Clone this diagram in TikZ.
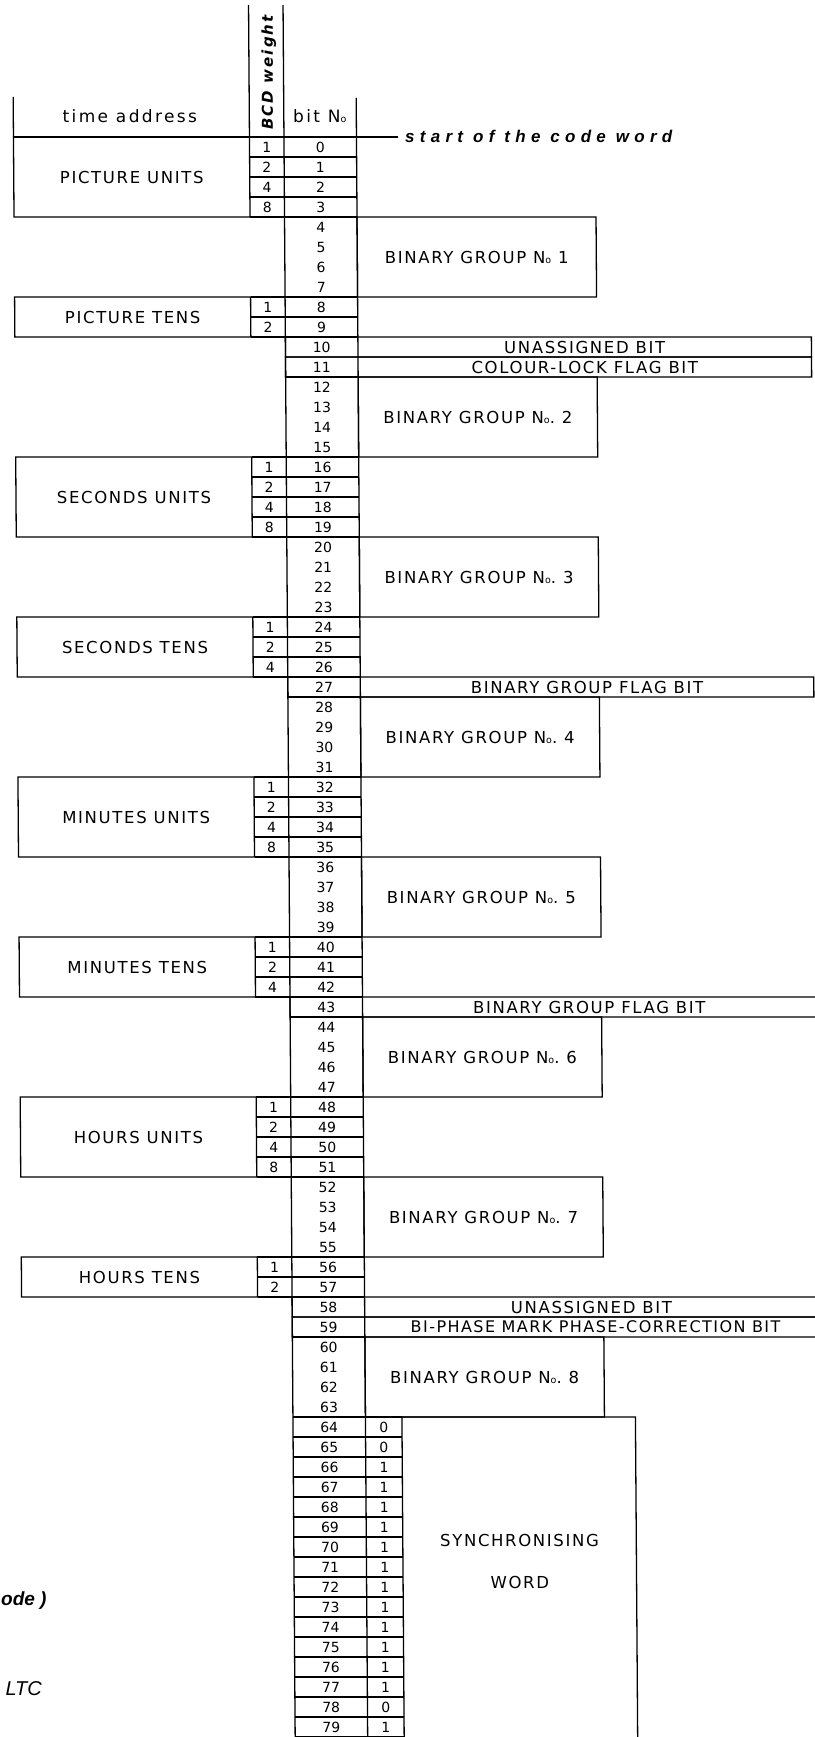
\documentclass[tikz,border=0pt]{standalone}
\usepackage{fontspec}
\newfontfamily\lblfont[LetterSpace=10]{DejaVu Sans}
\newfontfamily\lnglblfont[LetterSpace=9]{DejaVu Sans}
\newfontfamily\hdrfont[LetterSpace=14]{DejaVu Sans}
\newfontfamily\digfont{DejaVu Sans}
\newfontfamily\bcdfont[LetterSpace=14]{DejaVu Sans}
\newfontfamily\startfont[LetterSpace=31]{Liberation Sans}
\newfontfamily\capfont{Liberation Sans}
\newcommand\numo{N{\fontsize{9.5}{9.5}\selectfont o}}
\begin{document}
\begin{tikzpicture}[x=1pt,y=-1pt,
  ln/.style={line width=1.3pt},
  lab/.style={inner sep=0pt, font=\lblfont\fontsize{16.5}{17}\selectfont},
  lnglab/.style={inner sep=0pt, font=\lnglblfont\fontsize{16}{17}\selectfont},
  hdr/.style={inner sep=0pt, font=\hdrfont\fontsize{17}{18}\selectfont},
  dig/.style={inner sep=0pt, font=\digfont\fontsize{14}{14}\selectfont},
  bcd/.style={inner sep=0pt, font=\bcdfont\bfseries\itshape\fontsize{15}{15}\selectfont},
  startlab/.style={inner sep=0pt, font=\startfont\bfseries\itshape\fontsize{17}{17}\selectfont},
  frag/.style={inner sep=0pt, font=\capfont\itshape\fontsize{20}{20}\selectfont},
]
\useasboundingbox (0,0) rectangle (814,1737);
\def\XL{12.5}\def\XB{248.5}\def\XN{283}\def\XR{355.5}\def\XV{392}\def\XG{594.5}\def\XS{625.5}\def\XE{809}
\begin{scope}[xslant=-0.007]
% header
\draw[ln] (\XL,97) -- (\XL,137);
\draw[ln] (\XB,5) -- (\XB,137);
\draw[ln] (\XN,5) -- (\XN,1740);
\draw[ln] (\XR,98) -- (\XR,1740);
\draw[ln] (\XL,137) -- (397,137);
\node[hdr, anchor=base] (ta) at (129,122) {time address};
\node[hdr, anchor=base] (bitno) at (319,122) {bit \numo};
\node[bcd, rotate=90, anchor=base west] (bcdw) at (272,130) {BCD weight};
\node[startlab, anchor=base west] (sw) at (404,142) {start of the code word};
% time address blocks
\foreach \nm/\fr/\nr [count=\bi] in {PICTURE UNITS/0/4, PICTURE TENS/8/2, SECONDS UNITS/16/4, SECONDS TENS/24/3, MINUTES UNITS/32/4, MINUTES TENS/40/3, HOURS UNITS/48/4, HOURS TENS/56/2} {
  \pgfmathsetmacro\yt{137+20*\fr}
  \pgfmathsetmacro\yb{137+20*(\fr+\nr)}
  \draw[ln] (\XL,\yt) rectangle (\XB,\yb);
  \draw[ln] (\XB,\yt) -- (\XR,\yt);
  \node[lab] (tb\bi) at ({(\XL+\XB)/2},{(\yt+\yb)/2}) {\nm};
  \pgfmathtruncatemacro\nlast{\nr-1}
  \foreach \k in {0,...,\nlast} {
    \pgfmathsetmacro\yc{147.5+20*(\fr+\k)}
    \pgfmathsetmacro\yl{157+20*(\fr+\k)}
    \pgfmathtruncatemacro\wt{2^\k}
    \pgfmathtruncatemacro\bn{\fr+\k}
    \draw[ln] (\XB,\yl) -- (\XR,\yl);
    \node[dig] (w\bn) at ({(\XB+\XN)/2},\yc) {\wt};
    \node[dig] (b\bn) at ({(\XN+\XR)/2},\yc) {\bn};
  }
}
% binary groups
\foreach \fr [count=\gi] in {4,12,20,28,36,44,52,60} {
  \pgfmathsetmacro\yt{137+20*\fr}
  \pgfmathsetmacro\yb{\yt+80}
  \draw[ln] (\XR,\yt) rectangle (\XG,\yb);
  \draw[ln] (\XN,\yt) -- (\XR,\yt) (\XN,\yb) -- (\XR,\yb);
  \node[lab] (bg\gi) at ({(\XR+\XG)/2},{\yt+40}) {BINARY GROUP \numo\ifnum\gi>1 .\fi\ \gi};
  \foreach \k in {0,...,3} {
    \pgfmathtruncatemacro\bn{\fr+\k}
    \node[dig] (b\bn) at ({(\XN+\XR)/2},{147.5+20*\bn}) {\bn};
  }
}
% single-bit bars
\foreach \r/\tx [count=\ci] in {10/UNASSIGNED BIT, 11/COLOUR-LOCK FLAG BIT, 27/BINARY GROUP FLAG BIT, 43/BINARY GROUP FLAG BIT, 58/UNASSIGNED BIT} {
  \pgfmathsetmacro\yt{137+20*\r}
  \draw[ln] (\XN,\yt) rectangle (\XE,{\yt+20});
  \node[dig] (b\r) at ({(\XN+\XR)/2},{\yt+10.5}) {\r};
  \node[lab] (bar\ci) at ({(\XR+\XE)/2},{\yt+10}) {\tx};
}
\pgfmathsetmacro\yt{137+20*59}
\draw[ln] (\XN,\yt) rectangle (\XE,{\yt+20});
\node[dig] (b59) at ({(\XN+\XR)/2},{\yt+10.5}) {59};
\node[lnglab] (bar6) at ({(\XR+\XE)/2+4},{\yt+10}) {BI-PHASE MARK PHASE-CORRECTION BIT};
% synchronising word
\foreach \v [count=\si from 0] in {0,0,1,1,1,1,1,1,1,1,1,1,1,1,0,1} {
  \pgfmathtruncatemacro\bn{64+\si}
  \pgfmathsetmacro\yt{137+20*\bn}
  \draw[ln] (\XN,\yt) -- (\XV,\yt);
  \node[dig] (b\bn) at ({(\XN+\XR)/2},{\yt+10.5}) {\bn};
  \node[dig] (v\bn) at ({(\XR+\XV)/2},{\yt+10.5}) {\v};
}
\draw[ln] (\XN,1737) -- (\XV,1737);
\draw[ln] (\XV,1417) rectangle (\XS,1760);
\node[lab] (sync1) at ({(\XV+\XS)/2},1540) {SYNCHRONISING};
\node[lab] (sync2) at ({(\XV+\XS)/2},1582) {WORD};
\end{scope}
% caption fragments at the left edge
\node[frag, font=\capfont\bfseries\itshape\fontsize{19}{19}\selectfont, anchor=base west] (fr1) at (1,1605) {ode )};
\node[frag, anchor=base east] (fr2) at (42,1695) {LTC};
\end{tikzpicture}
\end{document}
